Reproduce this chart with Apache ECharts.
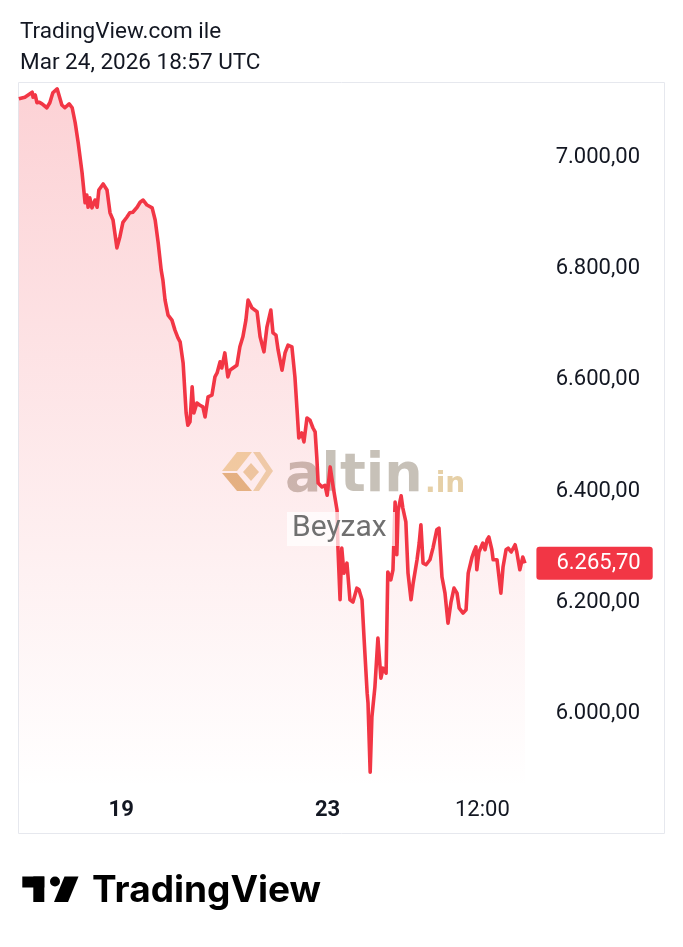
<!DOCTYPE html>
<html><head><meta charset="utf-8">
<script src="https://cdn.jsdelivr.net/npm/echarts@6/dist/echarts.min.js"></script>
<style>html,body{margin:0;padding:0;background:#fff}#c{width:683px;height:947px}</style>
</head><body><div id="c"></div>
<script>
// trading hours since Mar 18 00:00 (weekend skipped, as on the chart)
const hours = [0.2,1.6,3.3,3.5,4.0,4.4,4.9,5.6,6.7,7.4,8.1,9.1,9.5,10.2,10.9,11.9,12.6,13.3,14.0,14.9,
15.6,16.0,16.3,16.7,17.2,17.9,18.4,18.8,19.8,20.7,21.4,22.1,23.0,23.7,24.4,25.3,26.0,26.7,27.7,28.4,
29.1,30.0,31.2,31.9,32.6,33.3,33.7,34.2,34.9,35.8,36.5,37.2,37.7,38.4,39.1,39.5,40.0,40.5,40.9,41.6,
42.3,43.0,43.5,44.2,45.1,45.8,46.3,47.0,47.4,48.1,48.8,49.3,50.0,50.9,51.6,52.3,53.0,53.5,54.4,55.6,
56.3,56.7,57.2,57.9,58.8,59.3,60.0,60.5,61.4,62.1,62.8,63.7,64.4,64.9,65.3,66.0,66.5,67.2,67.9,68.6,
69.1,69.5,69.8,70.7,71.4,71.9,72.6,73.3,74.2,74.4,74.9,75.3,75.8,76.5,77.2,77.9,78.8,79.3,80.0,80.5,
81.2,81.4,81.9,82.3,83.0,83.7,84.4,84.9,85.6,86.0,86.7,87.2,87.7,88.1,88.4,89.1,89.5,90.2,90.7,91.4,
91.9,92.8,93.3,93.7,94.2,94.9,95.8,96.5,97.4,97.9,98.6,99.3,100.0,100.7,101.4,102.1,102.6,103.5,104.2,104.7,
105.6,106.0,106.5,106.7,107.2,108.1,108.6,109.1,109.5,110.2,110.5,111.4,112.3,112.8,113.5,114.0,114.7,115.6,116.0,116.7,
117.4,117.9];
const prices = [7101,7104,7113,7104,7108,7094,7095,7092,7085,7094,7112,7119,7117,7090,7085,7092,7085,7058,7022,6968,
6914,6928,6906,6923,6905,6919,6906,6937,6948,6937,6896,6883,6833,6853,6879,6888,6896,6897,6906,6915,
6919,6910,6905,6883,6842,6793,6775,6739,6712,6703,6685,6671,6664,6626,6536,6514,6520,6583,6536,6554,
6550,6547,6529,6565,6568,6601,6608,6628,6617,6644,6601,6613,6617,6622,6655,6673,6703,6739,6725,6718,
6673,6676,6646,6691,6721,6680,6676,6649,6613,6644,6658,6655,6601,6541,6491,6500,6484,6527,6523,6509,
6502,6455,6410,6403,6406,6388,6439,6403,6361,6295,6200,6293,6248,6266,6200,6196,6221,6218,6200,6128,
6032,6014,5890,5989,6043,6131,6059,6077,6068,6250,6236,6254,6376,6281,6361,6387,6365,6340,6248,6200,
6230,6272,6302,6335,6266,6263,6272,6293,6326,6329,6241,6212,6158,6196,6221,6212,6185,6176,6182,6248,
6277,6286,6295,6254,6286,6302,6290,6308,6313,6290,6272,6272,6212,6259,6290,6293,6286,6299,6286,6254,
6277,6265.70];
const priceTicks = [6000,6200,6400,6600,6800,7000];
const timeTicks = [24,72,108];
const timeTickLabels = ['19','23','12:00'];
const timeTickBold = [true,true,false];
const lastPrice = 6265.70;
const headerLines = ['TradingView.com ile','Mar 24, 2026 18:57 UTC'];

function fmtTR(v){
  const s = Number(v).toFixed(2);
  let [i,d] = s.split('.');
  i = i.replace(/\B(?=(\d{3})+(?!\d))/g,'.');
  return i + ',' + d;
}

const chart = echarts.init(document.getElementById('c'), null, {renderer:'canvas'});
const FONT = 'Roboto';
chart.setOption({
  animation:false,
  backgroundColor:'#ffffff',
  grid:{left:18, right:157.6, top:82.72, bottom:158.16, containLabel:false},
  xAxis:{
    type:'value', min:0, max:118,
    axisLine:{show:false}, axisTick:{show:false}, splitLine:{show:false},
    axisLabel:{
      customValues: timeTicks,
      margin: 11,
      formatter: function(v){
        const i = timeTicks.indexOf(v);
        if (i < 0) return '';
        return (timeTickBold[i] ? '{b|' : '{n|') + timeTickLabels[i] + '}';
      },
      rich:{
        b:{fontFamily:FONT, fontSize:22, fontWeight:'bold', color:'#131722'},
        n:{fontFamily:FONT, fontSize:22, fontWeight:'normal', color:'#131722'}
      }
    }
  },
  yAxis:{
    type:'value', position:'right', min:5860, max:7130, scale:true,
    axisLine:{show:false}, axisTick:{show:false}, splitLine:{show:false},
    axisLabel:{
      customValues: priceTicks,
      align:'right', margin:114.6,
      formatter: v => '{v|' + fmtTR(v) + '}',
      rich:{
        v:{fontFamily:FONT, fontSize:22, color:'#131722', lineHeight:26, padding:[5,0,0,0]}
      }
    }
  },
  series:[{
    type:'line', z:3,
    data: hours.map((h,i)=>[h, prices[i]]),
    showSymbol:false, symbol:'none',
    lineStyle:{color:'#f23645', width:3.6, join:'round'},
    areaStyle:{
      origin:'start',
      color:{type:'linear', x:0, y:0, x2:0, y2:1, colorStops:[
        {offset:0, color:'rgba(242,54,69,0.32)'},
        {offset:1, color:'rgba(242,54,69,0.0)'}
      ]}
    },
    markLine:{
      silent:true, symbol:'none', animation:false,
      lineStyle:{color:'rgba(0,0,0,0)', width:0},
      data:[{yAxis:lastPrice}],
      label:{
        show:true, position:'end', distance:11,
        formatter: () => fmtTR(lastPrice),
        fontFamily:FONT, fontSize:22, color:'#ffffff',
        backgroundColor:'#f23645', borderRadius:3,
        lineHeight:26, padding:[4,12,3,20]
      }
    }
  }],
  graphic:[
    {type:'rect', z:0, silent:true, shape:{x:18.5, y:82.5, width:646, height:751},
     style:{fill:'none', stroke:'#e6e8ee', lineWidth:1}},
    {type:'text', z:10, style:{x:20, y:32.5, text:headerLines[0], font:'22.5px Roboto', fill:'#131722', verticalAlign:'middle'}},
    {type:'text', z:10, style:{x:20, y:63, text:headerLines[1], font:'22.5px Roboto', fill:'#131722', verticalAlign:'middle'}},
    // altin.in watermark (below the line)
    {type:'polygon', z:1, silent:true, shape:{points:[[222,471],[237,452],[252,452],[237,471]]},
     style:{fill:'#efd39c', opacity:0.85}},
    {type:'polygon', z:1, silent:true, shape:{points:[[222,473],[237,473],[252,491],[237,491]]},
     style:{fill:'#deb273', opacity:0.85}},
    {type:'polygon', z:1, silent:true, shape:{points:[[253,452],[260,452],[273,471],[259,491],[253,491],[266,471]]},
     style:{fill:'#ecd3a6', opacity:0.85}},
    {type:'polygon', z:1, silent:true, shape:{points:[[243,472],[251,463],[259,472],[251,481]]},
     style:{fill:'#e8c994', opacity:0.8}},
    {type:'text', z:1, silent:true, style:{x:285, y:477, text:'altin', font:'bold 54px "DejaVu Sans"', fill:'#bdb6ab', opacity:0.85, verticalAlign:'middle'}},
    {type:'text', z:1, silent:true, style:{x:425, y:484.6, text:'.in', font:'bold 28px "DejaVu Sans"', fill:'#e2c898', opacity:0.85, verticalAlign:'middle'}},
    // Beyzax label (above the line)
    {type:'rect', z:20, silent:true, shape:{x:287, y:512, width:108, height:34},
     style:{fill:'rgba(255,255,255,0.72)'}},
    {type:'text', z:21, silent:true, style:{x:292, y:528, text:'Beyzax', font:'30px Roboto', fill:'#707070', verticalAlign:'middle'}},
    // TradingView logo
    {type:'rect', z:10, shape:{x:22.3, y:876.5, width:22, height:11}, style:{fill:'#000'}},
    {type:'rect', z:10, shape:{x:33.3, y:876.5, width:11, height:25.5}, style:{fill:'#000'}},
    {type:'circle', z:10, shape:{cx:55, cy:881.5, r:5}, style:{fill:'#000'}},
    {type:'polygon', z:10, shape:{points:[[64.5,876.5],[78.5,876.5],[68,902],[54,902]]}, style:{fill:'#000'}},
    {type:'text', z:10, style:{x:92, y:891, text:'TradingView', font:'bold 37px Inter', fill:'#000', verticalAlign:'middle'}}
  ]
});
</script></body></html>
